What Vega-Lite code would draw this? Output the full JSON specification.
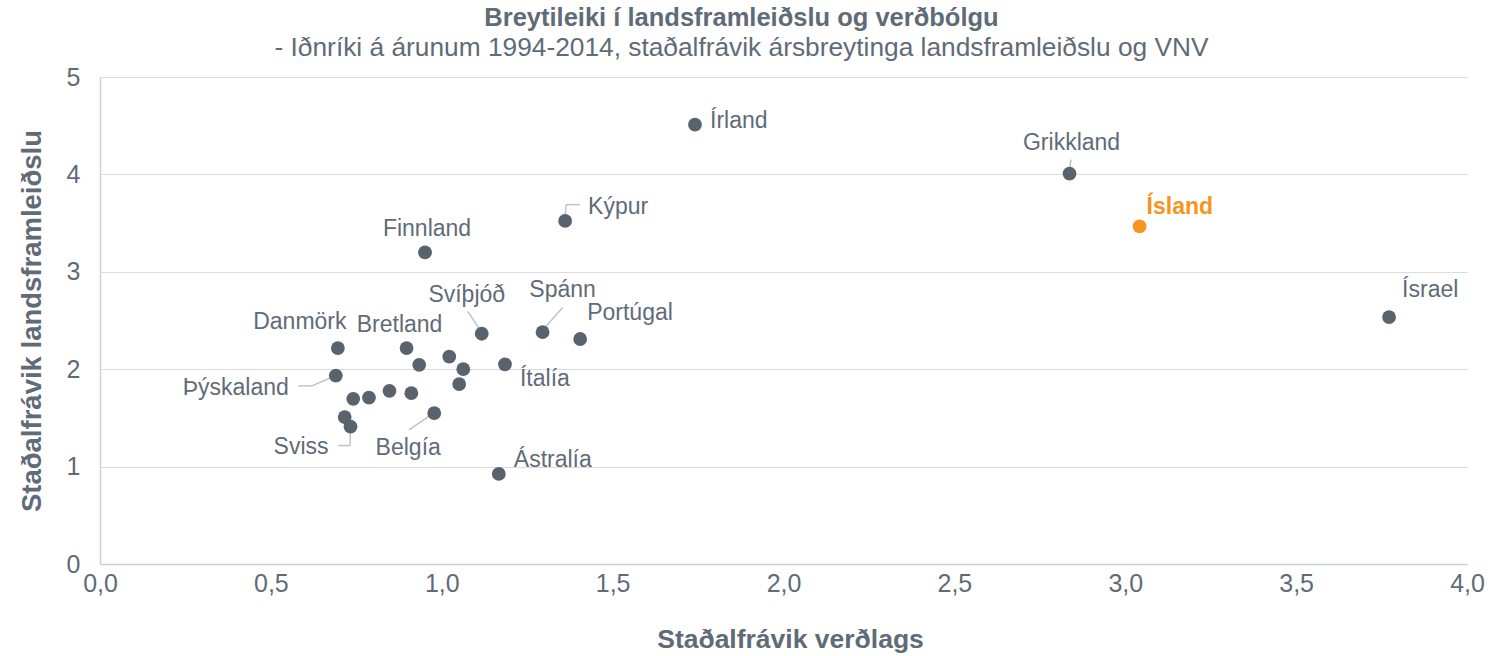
{
  "$schema": "https://vega.github.io/schema/vega-lite/v6.json",
  "autosize": "none",
  "width": 1367,
  "height": 487,
  "padding": {"left": 100, "top": 77, "right": 24, "bottom": 92},
  "background": "white",
  "title": {
    "text": "Breytileiki í landsframleiðslu og verðbólgu",
    "subtitle": "- Iðnríki á árunum 1994-2014, staðalfrávik ársbreytinga landsframleiðslu og VNV",
    "anchor": "middle",
    "frame": "group",
    "dx": -42,
    "offset": 4,
    "font": "Liberation Sans",
    "fontSize": 25.5,
    "fontWeight": "bold",
    "color": "#5f6b77",
    "subtitleFont": "Liberation Sans",
    "subtitleFontSize": 26.3,
    "subtitleColor": "#5f6b77",
    "subtitlePadding": 3
  },
  "config": {
    "view": {"stroke": null},
    "axis": {
      "labelFont": "Liberation Sans",
      "titleFont": "Liberation Sans",
      "labelColor": "#5f6b77",
      "titleColor": "#5f6b77",
      "labelFontSize": 25,
      "titleFontWeight": "bold",
      "gridColor": "#dcdcdc",
      "gridWidth": 1.2,
      "domainColor": "#cdd1d5",
      "domainWidth": 1.5,
      "ticks": false,
      "labelFlush": false
    }
  },
  "datasets": {
    "points": [
      {"name": "Danmörk", "verdlag": 0.696, "landsfr": 2.217},
      {"name": "Bretland", "verdlag": 0.897, "landsfr": 2.217},
      {"name": "Land A", "verdlag": 0.934, "landsfr": 2.045},
      {"name": "Land B", "verdlag": 1.022, "landsfr": 2.13},
      {"name": "Land C", "verdlag": 1.063, "landsfr": 2.0},
      {"name": "Svíþjóð", "verdlag": 1.117, "landsfr": 2.364},
      {"name": "Spánn", "verdlag": 1.295, "landsfr": 2.38},
      {"name": "Portúgal", "verdlag": 1.405, "landsfr": 2.31},
      {"name": "Ítalía", "verdlag": 1.185, "landsfr": 2.05},
      {"name": "Land D", "verdlag": 1.051, "landsfr": 1.847},
      {"name": "Þýskaland", "verdlag": 0.69, "landsfr": 1.935},
      {"name": "Land E", "verdlag": 0.741, "landsfr": 1.696},
      {"name": "Land F", "verdlag": 0.787, "landsfr": 1.709},
      {"name": "Land G", "verdlag": 0.847, "landsfr": 1.778},
      {"name": "Land H", "verdlag": 0.911, "landsfr": 1.754},
      {"name": "Belgía", "verdlag": 0.978, "landsfr": 1.549},
      {"name": "Land I", "verdlag": 0.716, "landsfr": 1.508},
      {"name": "Sviss", "verdlag": 0.733, "landsfr": 1.411},
      {"name": "Ástralía", "verdlag": 1.167, "landsfr": 0.925},
      {"name": "Írland", "verdlag": 1.741, "landsfr": 4.51},
      {"name": "Grikkland", "verdlag": 2.837, "landsfr": 4.008},
      {"name": "Ísland", "verdlag": 3.042, "landsfr": 3.467},
      {"name": "Ísrael", "verdlag": 3.772, "landsfr": 2.535},
      {"name": "Kýpur", "verdlag": 1.361, "landsfr": 3.522},
      {"name": "Finnland", "verdlag": 0.951, "landsfr": 3.2}
    ],
    "leaders": [
      {"name": "Þýskaland", "x": 0.58, "y": 1.829, "x2": 0.62, "y2": 1.829},
      {"name": "Þýskaland", "x": 0.62, "y": 1.829, "x2": 0.683, "y2": 1.925},
      {"name": "Sviss", "x": 0.697, "y": 1.216, "x2": 0.732, "y2": 1.216},
      {"name": "Sviss", "x": 0.732, "y": 1.216, "x2": 0.732, "y2": 1.411},
      {"name": "Belgía", "x": 0.904, "y": 1.377, "x2": 0.976, "y2": 1.549},
      {"name": "Svíþjóð", "x": 1.076, "y": 2.593, "x2": 1.117, "y2": 2.377},
      {"name": "Spánn", "x": 1.354, "y": 2.634, "x2": 1.296, "y2": 2.405},
      {"name": "Kýpur", "x": 1.405, "y": 3.69, "x2": 1.364, "y2": 3.69},
      {"name": "Kýpur", "x": 1.364, "y": 3.69, "x2": 1.361, "y2": 3.569},
      {"name": "Grikkland", "x": 2.841, "y": 4.152, "x2": 2.837, "y2": 4.032}
    ]
  },
  "encoding": {
    "x": {
      "field": "verdlag", "type": "quantitative",
      "scale": {"domain": [0, 4], "nice": false, "zero": true},
      "axis": {
        "title": "Staðalfrávik verðlags",
        "titleFontSize": 26.5,
        "titleX": 690,
        "values": [0, 0.5, 1, 1.5, 2, 2.5, 3, 3.5, 4],
        "labelExpr": "replace(format(datum.value, '.1f'), '.', ',')",
        "grid": false,
        "labelPadding": 7,
        "titlePadding": 30
      }
    },
    "y": {
      "field": "landsfr", "type": "quantitative",
      "scale": {"domain": [0, 5], "nice": false},
      "axis": {
        "title": "Staðalfrávik landsframleiðslu",
        "titleFontSize": 27.5,
        "values": [0, 1, 2, 3, 4, 5],
        "grid": true,
        "labelPadding": 20,
        "titlePadding": 20
      }
    }
  },
  "layer": [
    {
      "data": {"name": "leaders"},
      "mark": {"type": "rule", "color": "#bfc3c7", "strokeWidth": 1.5},
      "encoding": {
        "x": {"field": "x", "type": "quantitative"},
        "y": {"field": "y", "type": "quantitative"},
        "x2": {"field": "x2"},
        "y2": {"field": "y2"}
      }
    },
    {
      "data": {"name": "points"},
      "mark": {"type": "circle", "size": 190, "opacity": 1},
      "encoding": {
        "color": {
          "condition": {"test": "datum.name === 'Ísland'", "value": "#f7941d"},
          "value": "#59636e"
        }
      }
    },
    {"data": {"name": "points"}, "transform": [{"filter": "datum.name === 'Írland'"}], "mark": {"type": "text", "align": "left", "baseline": "middle", "dx": 15, "dy": -4, "font": "Liberation Sans", "fontSize": 23, "color": "#5f6b77"}, "encoding": {"text": {"field": "name"}}},
    {"data": {"name": "points"}, "transform": [{"filter": "datum.name === 'Grikkland'"}], "mark": {"type": "text", "align": "center", "baseline": "middle", "dx": 2, "dy": -31, "font": "Liberation Sans", "fontSize": 23, "color": "#5f6b77"}, "encoding": {"text": {"field": "name"}}},
    {"data": {"name": "points"}, "transform": [{"filter": "datum.name === 'Ísland'"}], "mark": {"type": "text", "align": "left", "baseline": "middle", "dx": 7, "dy": -19, "font": "Liberation Sans", "fontSize": 23, "fontWeight": "bold", "color": "#f7941d"}, "encoding": {"text": {"field": "name"}}},
    {"data": {"name": "points"}, "transform": [{"filter": "datum.name === 'Ísrael'"}], "mark": {"type": "text", "align": "left", "baseline": "middle", "dx": 13, "dy": -27, "font": "Liberation Sans", "fontSize": 23, "color": "#5f6b77"}, "encoding": {"text": {"field": "name"}}},
    {"data": {"name": "points"}, "transform": [{"filter": "datum.name === 'Kýpur'"}], "mark": {"type": "text", "align": "left", "baseline": "middle", "dx": 23, "dy": -14, "font": "Liberation Sans", "fontSize": 23, "color": "#5f6b77"}, "encoding": {"text": {"field": "name"}}},
    {"data": {"name": "points"}, "transform": [{"filter": "datum.name === 'Finnland'"}], "mark": {"type": "text", "align": "center", "baseline": "middle", "dx": 2, "dy": -23, "font": "Liberation Sans", "fontSize": 23, "color": "#5f6b77"}, "encoding": {"text": {"field": "name"}}},
    {"data": {"name": "points"}, "transform": [{"filter": "datum.name === 'Svíþjóð'"}], "mark": {"type": "text", "align": "center", "baseline": "middle", "dx": -15, "dy": -39, "font": "Liberation Sans", "fontSize": 23, "color": "#5f6b77"}, "encoding": {"text": {"field": "name"}}},
    {"data": {"name": "points"}, "transform": [{"filter": "datum.name === 'Spánn'"}], "mark": {"type": "text", "align": "center", "baseline": "middle", "dx": 20, "dy": -42, "font": "Liberation Sans", "fontSize": 23, "color": "#5f6b77"}, "encoding": {"text": {"field": "name"}}},
    {"data": {"name": "points"}, "transform": [{"filter": "datum.name === 'Portúgal'"}], "mark": {"type": "text", "align": "left", "baseline": "middle", "dx": 7, "dy": -26, "font": "Liberation Sans", "fontSize": 23, "color": "#5f6b77"}, "encoding": {"text": {"field": "name"}}},
    {"data": {"name": "points"}, "transform": [{"filter": "datum.name === 'Danmörk'"}], "mark": {"type": "text", "align": "center", "baseline": "middle", "dx": -38, "dy": -26, "font": "Liberation Sans", "fontSize": 23, "color": "#5f6b77"}, "encoding": {"text": {"field": "name"}}},
    {"data": {"name": "points"}, "transform": [{"filter": "datum.name === 'Bretland'"}], "mark": {"type": "text", "align": "center", "baseline": "middle", "dx": -7, "dy": -23, "font": "Liberation Sans", "fontSize": 23, "color": "#5f6b77"}, "encoding": {"text": {"field": "name"}}},
    {"data": {"name": "points"}, "transform": [{"filter": "datum.name === 'Þýskaland'"}], "mark": {"type": "text", "align": "right", "baseline": "middle", "dx": -47, "dy": 12, "font": "Liberation Sans", "fontSize": 23, "color": "#5f6b77"}, "encoding": {"text": {"field": "name"}}},
    {"data": {"name": "points"}, "transform": [{"filter": "datum.name === 'Ítalía'"}], "mark": {"type": "text", "align": "left", "baseline": "middle", "dx": 15, "dy": 15, "font": "Liberation Sans", "fontSize": 23, "color": "#5f6b77"}, "encoding": {"text": {"field": "name"}}},
    {"data": {"name": "points"}, "transform": [{"filter": "datum.name === 'Sviss'"}], "mark": {"type": "text", "align": "right", "baseline": "middle", "dx": -22, "dy": 20, "font": "Liberation Sans", "fontSize": 23, "color": "#5f6b77"}, "encoding": {"text": {"field": "name"}}},
    {"data": {"name": "points"}, "transform": [{"filter": "datum.name === 'Belgía'"}], "mark": {"type": "text", "align": "center", "baseline": "middle", "dx": -26, "dy": 35, "font": "Liberation Sans", "fontSize": 23, "color": "#5f6b77"}, "encoding": {"text": {"field": "name"}}},
    {"data": {"name": "points"}, "transform": [{"filter": "datum.name === 'Ástralía'"}], "mark": {"type": "text", "align": "left", "baseline": "middle", "dx": 15, "dy": -14, "font": "Liberation Sans", "fontSize": 23, "color": "#5f6b77"}, "encoding": {"text": {"field": "name"}}}
  ]
}
